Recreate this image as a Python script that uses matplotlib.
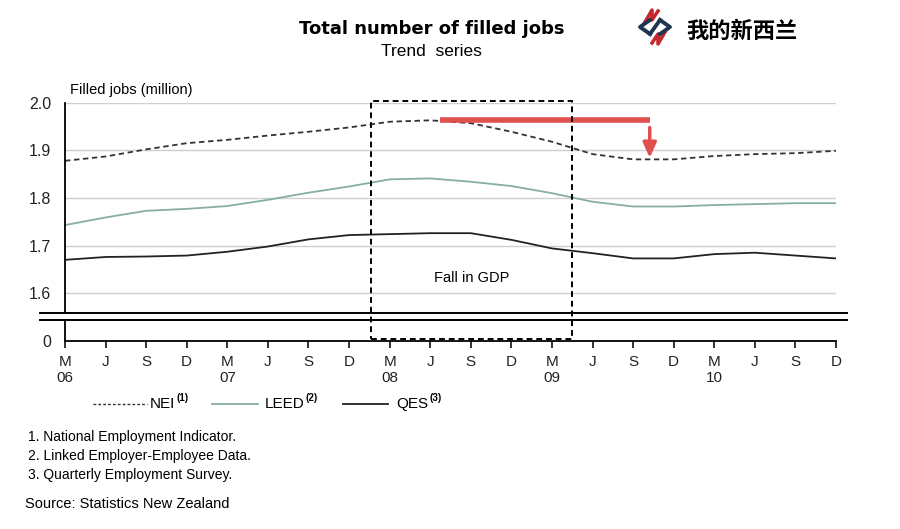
import matplotlib.pyplot as plt
from matplotlib.lines import Line2D
from matplotlib.patches import Rectangle
import matplotlib.transforms as mtransforms

plt.rcParams['font.family'] = ['Liberation Sans', 'DejaVu Sans']

# quarters Mar 2006 .. Dec 2010
months = ['M', 'J', 'S', 'D'] * 5
years = ['06', '07', '08', '09', '10']
nei = [1.878, 1.887, 1.902, 1.915, 1.922, 1.931, 1.939, 1.948, 1.960, 1.963,
       1.957, 1.939, 1.918, 1.892, 1.881, 1.881, 1.888, 1.892, 1.894, 1.899]
leed = [1.743, 1.759, 1.773, 1.777, 1.783, 1.796, 1.811, 1.824, 1.839, 1.841,
        1.834, 1.825, 1.810, 1.792, 1.782, 1.782, 1.785, 1.787, 1.789, 1.789]
qes = [1.670, 1.676, 1.677, 1.679, 1.687, 1.698, 1.713, 1.722, 1.724, 1.726,
       1.726, 1.712, 1.694, 1.684, 1.673, 1.673, 1.682, 1.685, 1.679, 1.673]
yticks = [1.6, 1.7, 1.8, 1.9, 2.0]

W, H = 900, 529
def px(x, y):
    return x / W, 1 - y / H

fig = plt.figure(figsize=(9, 5.29), dpi=100)

x = list(range(len(nei)))
left, right = 65, 836
ax = fig.add_axes([left / W, 1 - 312.7 / H, (right - left) / W, (312.7 - 102.7) / H])
ax0 = fig.add_axes([left / W, 1 - 340.7 / H, (right - left) / W, 20.7 / H])

ax.plot(x, nei, color='#333333', lw=1.3, ls=(0, (3, 2)))
ax.plot(x, leed, color='#86aea6', lw=1.3)
ax.plot(x, qes, color='#222222', lw=1.3)

ax.set_xlim(0, 19)
ax.set_ylim(1.559, 2.0)
ax.set_yticks(yticks)
ax.set_yticklabels([f'{v:.1f}' for v in yticks])
ax.yaxis.grid(True, color='#cfcfcf', lw=1)
ax.set_axisbelow(True)
ax.set_xticks([])
for s in ['top', 'right', 'bottom']:
    ax.spines[s].set_visible(False)
ax.spines['left'].set_linewidth(1.3)
ax.tick_params(axis='y', length=0, labelsize=11.5, pad=10, colors='#222222')
ax.patch.set_alpha(0)

ax0.set_xlim(0, 19)
ax0.set_ylim(0, 1)
ax0.set_yticks([0])
ax0.set_yticklabels(['0'])
ax0.set_xticks(x)
labels = []
for i, m in enumerate(months):
    labels.append(m + '\n' + years[i // 4] if i % 4 == 0 else m)
ax0.set_xticklabels(labels, va='top')
for s in ['top', 'right']:
    ax0.spines[s].set_visible(False)
ax0.spines['left'].set_linewidth(1.3)
ax0.spines['bottom'].set_linewidth(1.3)
ax0.tick_params(axis='y', length=0, labelsize=11.5, pad=10, colors='#222222')
ax0.tick_params(axis='x', length=5, width=1.3, direction='out', labelsize=11,
                pad=5, colors='#222222')
ax0.patch.set_alpha(0)

# axis break lines
for yb in [312.7, 320]:
    fig.add_artist(Line2D([40 / W, 847 / W], [1 - yb / H] * 2, color='black', lw=1.4))

# dashed "Fall in GDP" box
trans = mtransforms.blended_transform_factory(ax.transData, fig.transFigure)
box = Rectangle((7.54, 1 - 339 / H), 12.5 - 7.54, (339 - 101) / H, transform=trans,
                fill=False, ls=(0, (3, 2)), lw=1.4, ec='black', clip_on=False, zorder=5)
fig.add_artist(box)
ax.text(10.02, 1.632, 'Fall in GDP', ha='center', va='center', fontsize=10.5)

# red annotation
red = '#e0504f'
ax.plot([9.24, 14.41], [1.9635, 1.9635], color=red, lw=4, solid_capstyle='butt', clip_on=False)
ax.annotate('', xy=(14.41, 1.884), xytext=(14.41, 1.948),
            arrowprops=dict(arrowstyle='-|>,head_length=0.9,head_width=0.4',
                            color=red, lw=2.5, shrinkA=0, shrinkB=0))

# titles
fig.text(*px(432, 29), 'Total number of filled jobs', ha='center', va='center',
         fontsize=13, fontweight='bold', family=['DejaVu Sans'])
fig.text(*px(431, 51), 'Trend  series', ha='center', va='center', fontsize=12.5)
fig.text(*px(70, 90), 'Filled jobs (million)', ha='left', va='center', fontsize=10.5)

# logo
lg = fig.add_axes([636 / W, 1 - 46 / H, 38 / W, 38 / H])
lg.set_xlim(0, 38)
lg.set_ylim(38, 0)
lg.axis('off')
lg.plot([9, 16, 16, 22], [14, 2, 12, 3], color='#c8262c', lw=2.5)
lg.plot([16, 22, 22, 29], [35, 26, 36, 24], color='#c8262c', lw=2.5)
lg.plot([14, 4, 14], [12, 19, 26], color='#1f3550', lw=2.8)
lg.plot([24, 34, 24], [12, 19, 26], color='#1f3550', lw=2.8)
lg.plot([14, 24], [26, 12], color='#1f3550', lw=2.8)
fig.text(*px(686, 31), '我的新西兰', ha='left', va='center', fontsize=16,
         fontweight='bold', family=['Noto Sans CJK SC', 'DejaVu Sans'])

# legend
ly = 1 - 404 / H
fig.add_artist(Line2D([93 / W, 147 / W], [ly, ly], color='#333333', lw=1, ls=(0, (2, 1.5))))
fig.add_artist(Line2D([212 / W, 258 / W], [ly, ly], color='#86aea6', lw=1.3))
fig.add_artist(Line2D([343 / W, 388 / W], [ly, ly], color='#222222', lw=1.3))
fig.canvas.draw()
renderer = fig.canvas.get_renderer()
for xt, name, sup in [(150, 'NEI', '(1)'), (265, 'LEED', '(2)'), (396, 'QES', '(3)')]:
    t = fig.text(xt / W, ly, name, ha='left', va='center', fontsize=11)
    bb = t.get_window_extent(renderer)
    fig.text((bb.x1 + 1) / W, 1 - 398 / H, sup, ha='left', va='center', fontsize=7,
             fontweight='bold')

# footnotes
notes = ['1. National Employment Indicator.', '2. Linked Employer-Employee Data.',
         '3. Quarterly Employment Survey.']
for i, n in enumerate(notes):
    fig.text(*px(28, 437 + 19 * i), n, ha='left', va='center', fontsize=10)
fig.text(*px(25, 504), 'Source: Statistics New Zealand', ha='left', va='center', fontsize=10.5)

fig.savefig('out.png', dpi=100)
